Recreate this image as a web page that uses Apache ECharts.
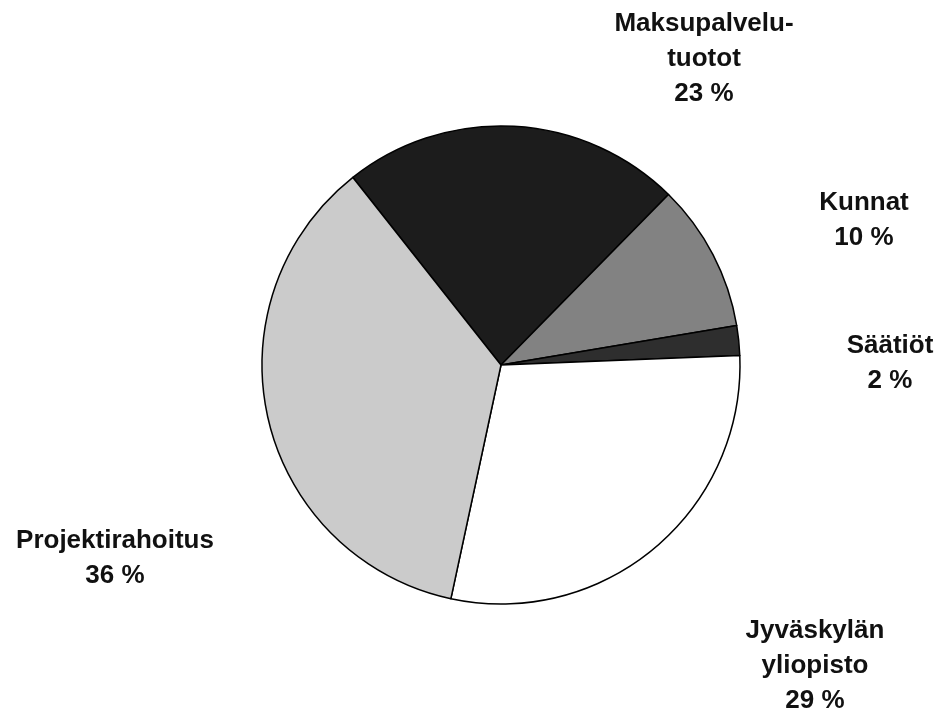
<!DOCTYPE html>
<html>
<head>
<meta charset="utf-8">
<script src="https://cdn.jsdelivr.net/npm/echarts@6/dist/echarts.min.js"></script>
<style>
html,body{margin:0;padding:0;background:#fff;}
#chart{width:941px;height:715px;}
</style>
</head>
<body>
<div id="chart"></div>
<script>
// Data
var categories = ['Maksupalvelu-\ntuotot', 'Kunnat', 'Säätiöt', 'Jyväskylän\nyliopisto', 'Projektirahoitus'];
var shares = [23, 10, 2, 29, 36];

// Styles / layout (not data)
var sliceColors = ['#1c1c1c', '#828282', '#2e2e2e', '#ffffff', '#cbcbcb'];
var labelAnchors = [[704, 59], [864, 220], [890, 363], [815, 666], [115, 558]];

var chart = echarts.init(document.getElementById('chart'), null, {renderer: 'canvas'});
chart.setOption({
  backgroundColor: '#ffffff',
  animation: false,
  series: [{
    type: 'pie',
    center: [501, 365],
    radius: 239,
    startAngle: 128.3,
    clockwise: true,
    avoidLabelOverlap: false,
    percentPrecision: 0,
    data: categories.map(function (c, i) {
      return {name: c, value: shares[i], itemStyle: {color: sliceColors[i]}};
    }),
    itemStyle: {borderColor: '#000', borderWidth: 1.5},
    emphasis: {disabled: true},
    label: {
      show: true,
      position: 'outside',
      formatter: function (p) { return p.name + '\n' + p.value + ' %'; },
      fontFamily: '"Liberation Sans", Arial, sans-serif',
      fontWeight: 'bold',
      fontSize: 26,
      lineHeight: 35,
      color: '#111',
      align: 'center'
    },
    labelLine: {show: false},
    labelLayout: function (params) {
      var a = labelAnchors[params.dataIndex];
      return {x: a[0], y: a[1], align: 'center', verticalAlign: 'middle'};
    }
  }]
});
</script>
</body>
</html>
